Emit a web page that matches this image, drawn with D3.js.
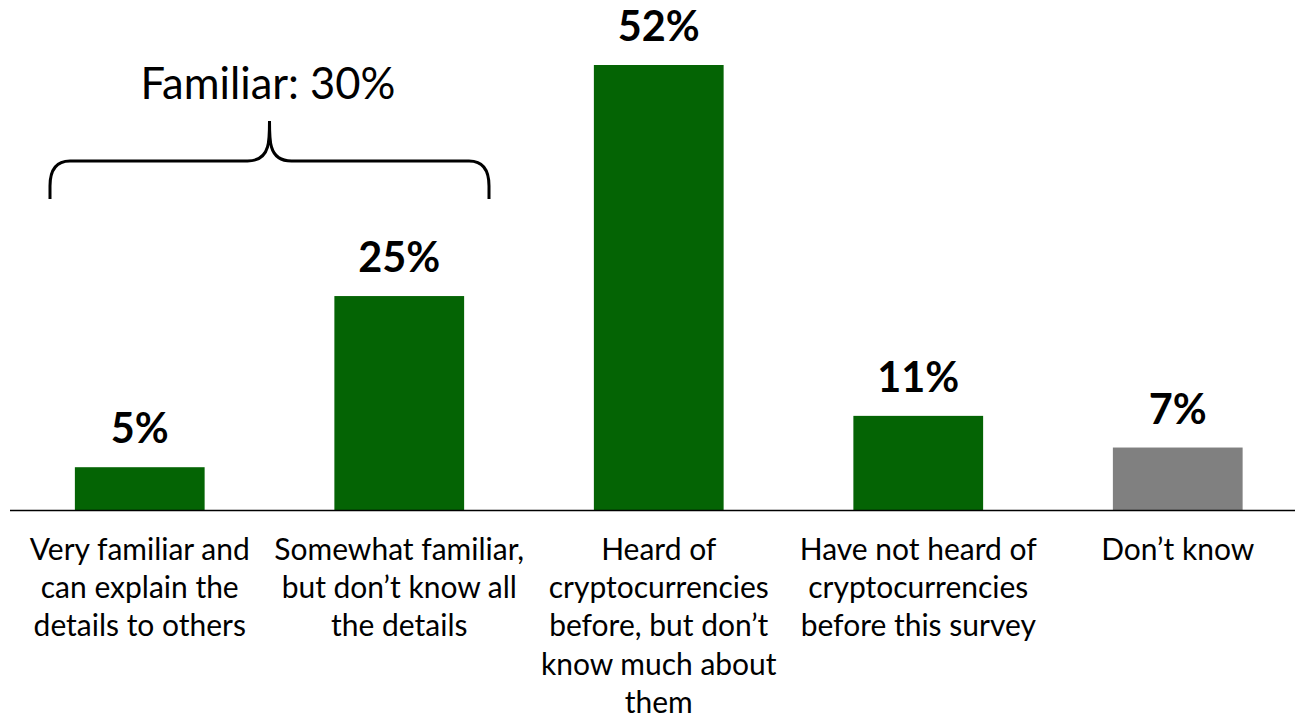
<!DOCTYPE html>
<html>
<head>
<meta charset="utf-8">
<script src="https://cdn.jsdelivr.net/npm/d3@7"></script>
<style>
  html, body { margin: 0; padding: 0; background: #fff; }
  svg { display: block; }
  text { font-family: Lato, "Open Sans", sans-serif; fill: #000; }
</style>
</head>
<body>
<svg id="chart" width="1295" height="719"></svg>
<script>
const categories = [
  ["Very familiar and", "can explain the", "details to others"],
  ["Somewhat familiar,", "but don\u2019t know all", "the details"],
  ["Heard of", "cryptocurrencies", "before, but don\u2019t", "know much about", "them"],
  ["Have not heard of", "cryptocurrencies", "before this survey"],
  ["Don\u2019t know"]
];
const values = [5, 25, 52, 11, 7.3];
const valueLabels = ["5%", "25%", "52%", "11%", "7%"];
const barColors = ["#046404", "#046404", "#046404", "#046404", "#808080"];
const groupLabel = "Familiar: 30%";

const svg = d3.select("#chart");
const W = 1295, H = 719;
const baseY = 510;

const x = d3.scaleBand()
  .domain(d3.range(values.length))
  .range([10, 1307.5])
  .paddingInner(0.5)
  .paddingOuter(0.25);

const y = d3.scaleLinear().domain([0, 52]).range([baseY, 65]);

// fit helper: choose font size so a reference string matches a target width
function fitSize(str, weight, targetW) {
  const t = svg.append("text").attr("font-size", 100).attr("font-weight", weight).text(str);
  const w = t.node().getComputedTextLength();
  t.remove();
  return 100 * targetW / w;
}
const labelSize = fitSize("Very familiar and", "normal", 220);
const valueSize = fitSize("52%", "bold", 82);
const groupSize = fitSize(groupLabel, "normal", 255);

// bars
svg.selectAll("rect.bar").data(values).enter().append("rect")
  .attr("class", "bar")
  .attr("x", (d, i) => x(i))
  .attr("width", x.bandwidth())
  .attr("y", d => y(d))
  .attr("height", d => baseY - y(d))
  .attr("fill", (d, i) => barColors[i]);

// axis line
svg.append("line")
  .attr("x1", 10).attr("x2", W)
  .attr("y1", baseY + 0.5).attr("y2", baseY + 0.5)
  .attr("stroke", "#000").attr("stroke-width", 1.6);

// value labels
svg.selectAll("text.val").data(values).enter().append("text")
  .attr("class", "val")
  .attr("x", (d, i) => x(i) + x.bandwidth() / 2)
  .attr("y", d => y(d) - 24)
  .attr("text-anchor", "middle")
  .attr("font-weight", "bold")
  .attr("font-size", valueSize)
  .text((d, i) => valueLabels[i]);

// category labels
const cat = svg.selectAll("text.cat").data(categories).enter().append("text")
  .attr("class", "cat")
  .attr("text-anchor", "middle")
  .attr("font-size", labelSize);
cat.each(function(lines, i) {
  const t = d3.select(this);
  lines.forEach((ln, j) => {
    t.append("tspan")
      .attr("x", x(i) + x.bandwidth() / 2)
      .attr("y", 560 + j * 38.2)
      .text(ln);
  });
});

// brace over first two bars
const bx0 = 50, bx1 = 489, bmid = (bx0 + bx1) / 2, byBot = 199, byMid = 161, byTop = 121;
const r = 20;
const bracePath = `M${bx0},${byBot} L${bx0},${byMid + 25}
  Q${bx0},${byMid} ${bx0 + r},${byMid}
  L${bmid - 22},${byMid}
  Q${bmid - 6},${byMid} ${bmid - 2},${byMid - 14}
  Q${bmid},${byMid - 20} ${bmid},${byTop}
  M${bmid},${byTop}
  Q${bmid},${byMid - 20} ${bmid + 2},${byMid - 14}
  Q${bmid + 6},${byMid} ${bmid + 22},${byMid}
  L${bx1 - r},${byMid}
  Q${bx1},${byMid} ${bx1},${byMid + 25}
  L${bx1},${byBot}`;
svg.append("path")
  .attr("d", bracePath)
  .attr("fill", "none")
  .attr("stroke", "#000")
  .attr("stroke-width", 3);

svg.append("text")
  .attr("x", 268)
  .attr("y", 99)
  .attr("text-anchor", "middle")
  .attr("font-size", groupSize)
  .text(groupLabel);
</script>
</body>
</html>
